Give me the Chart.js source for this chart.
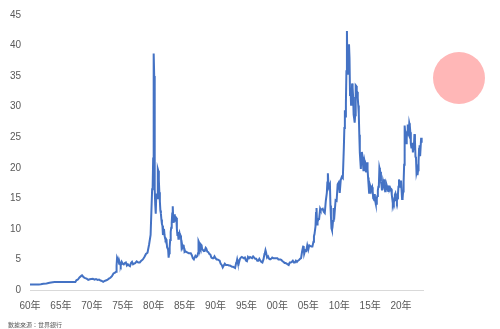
<!DOCTYPE html>
<html>
<head>
<meta charset="utf-8">
<script src="https://cdn.jsdelivr.net/npm/chart.js@4.4.0/dist/chart.umd.min.js"></script>
<style>
  html, body { margin: 0; padding: 0; background: #ffffff; }
  #wrap { position: relative; width: 500px; height: 329px; overflow: hidden; }
  #c { position: absolute; left: 0; top: 0; }
  #dot { position: absolute; left: 433px; top: 52px; width: 52px; height: 52px; border-radius: 50%; background: #ffb7b7; }
  #src { position: absolute; left: 8px; top: 320px; font: 6px "Noto Sans CJK TC", "Noto Sans CJK SC", sans-serif; color: #595959; white-space: nowrap; }
</style>
</head>
<body>
<div id="wrap">
  <canvas id="c" width="500" height="329"></canvas>
  <div id="dot"></div>
  <div id="src">數據來源：世界銀行</div>
</div>
<script>
const months = [
 "1960-01","1961-06","1961-10","1962-03","1962-09","1963-03","1963-09","1964-01","1967-05","1967-07","1967-10",
 "1968-01","1968-05","1968-06","1968-09","1968-12","1969-03","1969-06","1969-09","1969-12","1970-03","1970-06",
 "1970-09","1970-12","1971-03","1971-06","1971-09","1971-11","1972-01","1972-04","1972-07","1972-10","1973-01",
 "1973-04","1973-07","1973-10","1973-12","1974-01","1974-02","1974-03","1974-04","1974-05","1974-06","1974-07",
 "1974-08","1974-09","1974-11","1975-01","1975-03","1975-05","1975-07","1975-09","1975-11","1976-01","1976-03",
 "1976-05","1976-07","1976-09","1976-11","1977-01","1977-04","1977-07","1977-10","1978-01","1978-04","1978-07",
 "1978-10","1979-01","1979-04","1979-07","1979-09","1979-10","1979-11","1979-12","1980-01","1980-02","1980-03",
 "1980-04","1980-05","1980-06","1980-07","1980-08","1980-09","1980-10","1980-11","1980-12","1981-01","1981-02",
 "1981-03","1981-04","1981-05","1981-06","1981-07","1981-08","1981-09","1981-10","1981-11","1981-12","1982-01",
 "1982-02","1982-03","1982-04","1982-05","1982-06","1982-07","1982-08","1982-09","1982-10","1982-11","1982-12",
 "1983-01","1983-02","1983-03","1983-04","1983-05","1983-06","1983-07","1983-08","1983-09","1983-10","1983-11",
 "1983-12","1984-01","1984-02","1984-03","1984-04","1984-05","1984-06","1984-07","1984-08","1984-09","1984-10",
 "1984-11","1984-12","1985-01","1985-03","1985-05","1985-07","1985-09","1985-11","1986-01","1986-03","1986-05",
 "1986-07","1986-08","1986-10","1986-12","1987-02","1987-03","1987-04","1987-05","1987-06","1987-07","1987-08",
 "1987-09","1987-10","1987-11","1987-12","1988-02","1988-04","1988-06","1988-07","1988-09","1988-11","1989-01",
 "1989-03","1989-05","1989-07","1989-09","1989-11","1990-01","1990-03","1990-05","1990-07","1990-09","1990-11",
 "1991-01","1991-03","1991-05","1991-07","1991-09","1991-11","1992-01","1992-03","1992-05","1992-07","1992-09",
 "1992-11","1993-01","1993-03","1993-05","1993-06","1993-07","1993-08","1993-10","1993-12","1994-02","1994-04",
 "1994-06","1994-08","1994-10","1994-12","1995-02","1995-04","1995-06","1995-08","1995-10","1995-12","1996-02",
 "1996-04","1996-06","1996-08","1996-10","1996-12","1997-02","1997-04","1997-06","1997-08","1997-10","1997-12",
 "1998-01","1998-02","1998-03","1998-05","1998-07","1998-09","1998-11","1999-01","1999-03","1999-05","1999-07",
 "1999-09","1999-11","2000-01","2000-03","2000-05","2000-07","2000-09","2000-11","2001-01","2001-03","2001-05",
 "2001-07","2001-09","2001-11","2002-01","2002-03","2002-05","2002-07","2002-09","2002-11","2003-01","2003-03",
 "2003-05","2003-07","2003-09","2003-11","2004-01","2004-03","2004-04","2004-05","2004-07","2004-09","2004-11",
 "2005-01","2005-03","2005-05","2005-07","2005-09","2005-11","2005-12","2006-01","2006-03","2006-04","2006-05",
 "2006-06","2006-07","2006-09","2006-10","2006-12","2007-01","2007-03","2007-05","2007-07","2007-09","2007-11",
 "2008-01","2008-02","2008-03","2008-04","2008-05","2008-07","2008-08","2008-09","2008-10","2008-11","2008-12",
 "2009-01","2009-02","2009-04","2009-06","2009-08","2009-10","2009-12","2010-02","2010-04","2010-06","2010-08",
 "2010-10","2010-11","2010-12","2011-01","2011-02","2011-03","2011-04","2011-05","2011-06","2011-07","2011-08",
 "2011-09","2011-10","2011-11","2011-12","2012-01","2012-02","2012-03","2012-04","2012-05","2012-06","2012-07",
 "2012-08","2012-09","2012-10","2012-11","2012-12","2013-01","2013-02","2013-03","2013-04","2013-05","2013-06",
 "2013-07","2013-08","2013-09","2013-10","2013-11","2013-12","2014-01","2014-02","2014-03","2014-04","2014-05",
 "2014-06","2014-07","2014-08","2014-09","2014-10","2014-11","2014-12","2015-01","2015-02","2015-03","2015-04",
 "2015-05","2015-06","2015-07","2015-08","2015-09","2015-10","2015-11","2015-12","2016-01","2016-02","2016-03",
 "2016-04","2016-05","2016-06","2016-07","2016-08","2016-09","2016-10","2016-11","2016-12","2017-01","2017-02",
 "2017-03","2017-04","2017-05","2017-06","2017-07","2017-08","2017-09","2017-10","2017-11","2017-12","2018-01",
 "2018-02","2018-03","2018-04","2018-05","2018-06","2018-07","2018-08","2018-09","2018-10","2018-11","2018-12",
 "2019-01","2019-02","2019-03","2019-04","2019-05","2019-06","2019-07","2019-08","2019-09","2019-10","2019-11",
 "2019-12","2020-01","2020-02","2020-03","2020-04","2020-05","2020-06","2020-07","2020-08","2020-09","2020-10",
 "2020-11","2020-12","2021-01","2021-02","2021-03","2021-04","2021-05","2021-06","2021-07","2021-08","2021-09",
 "2021-10","2021-11","2021-12","2022-01","2022-02","2022-03","2022-04","2022-05","2022-06","2022-07","2022-08",
 "2022-09","2022-10","2022-11","2022-12","2023-01","2023-02","2023-03","2023-04","2023-05"
];
const prices = [
 0.91,0.92,0.95,1.02,1.08,1.20,1.28,1.29,1.29,1.60,1.72,
 2.05,2.35,2.40,2.10,1.95,1.85,1.65,1.75,1.80,1.85,1.70,
 1.80,1.65,1.70,1.55,1.45,1.35,1.45,1.55,1.65,1.85,2.00,
 2.25,2.70,2.85,3.00,4.00,5.30,5.10,4.80,4.70,4.30,4.50,
 4.20,4.00,4.60,4.30,4.20,4.40,4.50,4.00,4.20,4.00,3.90,
 4.40,4.60,4.20,4.30,4.40,4.70,4.50,4.50,4.80,5.00,5.40,
 5.90,6.10,7.40,9.00,14.0,16.5,16.8,21.5,38.7,35.0,16.5,
 14.0,12.5,15.5,15.8,15.0,19.8,19.5,18.0,16.0,14.5,13.0,
 12.5,11.5,10.8,10.5,9.0,9.5,10.0,9.0,8.5,8.2,8.3,
 8.0,7.0,7.0,6.6,5.3,6.0,7.0,8.2,9.5,10.2,11.0,
 12.5,13.7,11.5,11.0,12.4,11.2,12.0,12.0,11.8,10.0,9.0,
 9.5,8.4,9.0,9.3,8.8,8.9,8.6,7.2,7.5,7.0,7.2,
 7.4,6.8,6.2,6.3,6.2,6.1,6.0,6.0,6.0,5.7,5.2,
 5.0,5.2,5.6,5.4,5.6,6.0,8.0,7.8,7.0,7.3,7.0,
 7.4,7.3,6.7,6.6,6.4,6.4,6.9,6.8,6.3,6.2,5.9,
 5.8,5.3,5.2,5.2,5.5,5.2,5.0,5.0,4.9,4.8,4.3,
 4.1,3.7,4.0,4.3,4.1,4.1,4.1,4.0,4.0,3.9,3.8,
 3.8,3.7,3.6,4.4,4.6,5.0,4.6,4.3,5.0,5.3,5.4,
 5.3,5.2,5.3,4.8,4.7,5.4,5.2,5.4,5.3,5.2,5.5,
 5.3,5.1,5.1,4.8,4.8,5.1,4.8,4.6,4.5,5.0,5.9,
 6.1,6.5,6.2,5.3,5.5,5.1,5.0,5.1,5.3,5.2,5.2,
 5.2,5.2,5.2,5.0,5.0,5.0,4.9,4.7,4.6,4.4,4.4,
 4.3,4.2,4.1,4.5,4.5,4.6,4.8,4.5,4.5,4.8,4.6,
 4.8,4.9,5.1,5.2,6.3,7.1,7.2,5.9,6.5,6.4,7.3,
 6.6,7.3,7.2,7.1,7.1,7.9,8.8,9.1,10.4,12.6,13.4,
 10.7,11.2,11.6,11.6,13.3,13.1,13.2,13.3,12.8,12.6,14.6,
 15.9,17.6,19.1,17.4,16.9,17.3,13.8,12.0,10.1,9.8,10.3,
 11.3,13.4,12.5,14.7,14.6,17.3,17.6,15.9,18.0,18.5,18.3,
 23.3,26.5,29.4,28.4,30.7,35.8,42.4,35.4,35.8,38.9,40.2,
 37.9,31.9,33.1,30.3,30.9,33.8,33.1,31.6,28.7,28.1,27.4,
 28.6,33.5,33.4,32.5,32.4,31.4,30.2,28.8,25.4,22.5,21.1,
 19.8,22.1,22.6,21.8,20.8,19.6,20.0,21.2,20.8,19.7,19.4,
 19.8,20.9,19.8,18.4,17.2,15.9,16.1,17.1,16.8,16.3,16.3,
 16.8,16.1,15.0,14.9,14.7,15.7,14.5,14.1,14.1,15.0,15.4,
 16.3,16.9,17.2,20.0,19.6,19.3,17.7,17.2,16.3,16.8,17.8,
 17.4,18.1,16.8,16.9,16.0,16.8,17.2,16.9,16.9,16.2,17.1,
 16.6,16.5,16.7,16.5,16.5,15.6,14.9,14.2,14.6,14.3,14.7,
 15.6,15.8,15.2,15.0,14.6,15.0,15.7,16.9,18.1,17.6,17.2,
 17.0,17.9,17.9,14.9,15.0,16.1,17.7,20.5,26.9,25.8,24.4,
 24.0,24.9,25.9,27.1,25.6,25.4,27.3,26.9,25.8,23.9,23.3,
 23.4,24.1,22.5,23.3,23.6,25.5,24.4,21.8,21.6,19.2,19.6,
 18.8,19.6,21.1,23.1,23.7,21.9,21.9,24.9,24.1
];
const tickYears = [1960,1965,1970,1975,1980,1985,1990,1995,2000,2005,2010,2015,2020];
const tickLabels = ["60年","65年","70年","75年","80年","85年","90年","95年","00年","05年","10年","15年","20年"];
const yTicks = [0,5,10,15,20,25,30,35,40,45];

const points = months.map((m, i) => {
  const [y, mo] = m.split("-").map(Number);
  return { x: y + (mo - 1) / 12, y: prices[i] };
});

const tickFont = { family: "'Liberation Sans Narrow','Liberation Sans','Noto Sans CJK TC',sans-serif", size: 10 };

new Chart(document.getElementById("c"), {
  type: "line",
  data: {
    datasets: [{
      data: points,
      borderColor: "#4472c4",
      borderWidth: 2,
      pointRadius: 0,
      tension: 0,
      fill: false
    }]
  },
  options: {
    responsive: false,
    animation: false,
    events: [],
    layout: { padding: { left: 0, top: 13.5, right: 77, bottom: 0 } },
    plugins: { legend: { display: false }, tooltip: { enabled: false } },
    scales: {
      x: {
        type: "linear",
        min: 1960,
        max: 2023.55,
        afterFit: s => { s.height = 39; },
        afterBuildTicks: s => { s.ticks = tickYears.map(v => ({ value: v })); },
        grid: { display: false, drawTicks: false },
        border: { display: true, color: "#d9d9d9", width: 1 },
        ticks: {
          autoSkip: false,
          maxRotation: 0,
          padding: 10,
          color: "#595959",
          font: tickFont,
          callback: (v) => { const i = tickYears.indexOf(v); return i >= 0 ? tickLabels[i] : ""; }
        }
      },
      y: {
        min: 0,
        max: 45,
        afterFit: s => { s.width = 30; },
        afterBuildTicks: s => { s.ticks = yTicks.map(v => ({ value: v })); },
        grid: { display: false, drawTicks: false },
        border: { display: false },
        ticks: { padding: 9, color: "#595959", font: tickFont }
      }
    }
  }
});
</script>
</body>
</html>
